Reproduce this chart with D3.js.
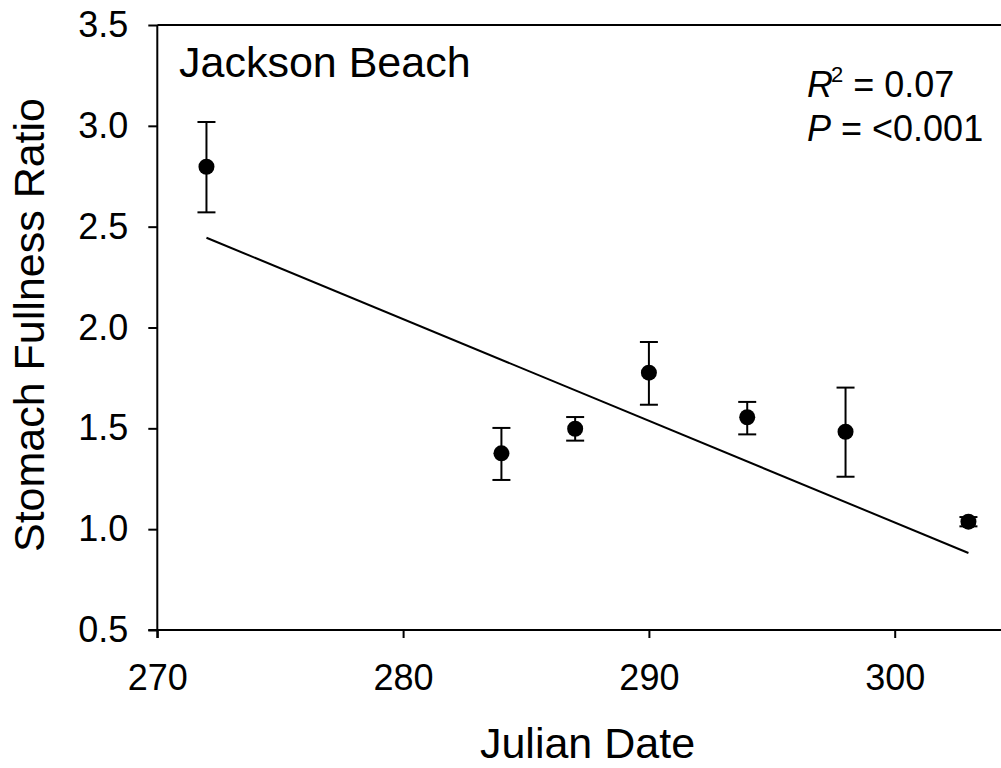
<!DOCTYPE html>
<html>
<head>
<meta charset="utf-8">
<script src="https://cdn.jsdelivr.net/npm/d3@7"></script>
<style>
  body { margin: 0; background: #fff; }
  svg { display: block; font-family: "Liberation Sans", Arial, sans-serif; }
</style>
</head>
<body>
<svg id="chart" width="1001" height="768"></svg>
<script>
// Data
const julianDates = [272, 284, 287, 290, 294, 298, 303];
const meanRatio   = [2.797, 1.376, 1.498, 1.776, 1.555, 1.483, 1.037];
const errUpper    = [3.019, 1.502, 1.556, 1.928, 1.631, 1.702, 1.060];
const errLower    = [2.571, 1.244, 1.439, 1.617, 1.470, 1.260, 1.014];
const fitX        = [272, 303];
const fitY        = [2.445, 0.882];
const xTicks      = [270, 280, 290, 300];
const yTicks      = [0.5, 1.0, 1.5, 2.0, 2.5, 3.0, 3.5];
const siteLabel   = "Jackson Beach";
const xTitle      = "Julian Date";
const yTitle      = "Stomach Fullness Ratio";

(function () {
const svg = d3.select("#chart");
const mLeft = 157.3, mRight = 1001, mTop = 25, mBottom = 630;

const x = d3.scaleLinear().domain([270, 300]).range([mLeft, 894.7]);
const y = d3.scaleLinear().domain([0.5, 3.5]).range([mBottom, mTop]);

const stroke = "#000";
const ff = "Liberation Sans, Arial, sans-serif";

// X axis
const xAxis = svg.append("g").attr("transform", `translate(0,${mBottom})`)
  .call(d3.axisBottom(x).tickValues(xTicks).tickSize(8).tickPadding(26).tickFormat(d3.format("d")));
xAxis.select(".domain").remove();
xAxis.append("line").attr("x1", mLeft - 9).attr("x2", mRight).attr("y1", 0).attr("y2", 0)
  .attr("stroke", stroke).attr("stroke-width", 2);
xAxis.selectAll(".tick line").attr("stroke-width", 2);
xAxis.selectAll("text").attr("font-size", 36).attr("fill", "#000").attr("font-family", ff);

// Y axis
const yAxis = svg.append("g").attr("transform", `translate(${mLeft},0)`)
  .call(d3.axisLeft(y).tickValues(yTicks).tickSize(9).tickPadding(20).tickFormat(d3.format(".1f")));
yAxis.select(".domain").remove();
yAxis.append("line").attr("x1", 0).attr("x2", 0).attr("y1", mTop).attr("y2", mBottom + 8)
  .attr("stroke", stroke).attr("stroke-width", 2);
yAxis.selectAll(".tick line").attr("stroke-width", 2);
yAxis.selectAll("text").attr("font-size", 36).attr("fill", "#000").attr("font-family", ff);

// Top frame line
svg.append("line").attr("x1", mLeft).attr("x2", mRight).attr("y1", y(3.5)).attr("y2", y(3.5))
  .attr("stroke", stroke).attr("stroke-width", 2);

// Regression line
svg.append("line")
  .attr("x1", x(fitX[0])).attr("y1", y(fitY[0]))
  .attr("x2", x(fitX[1])).attr("y2", y(fitY[1]))
  .attr("stroke", stroke).attr("stroke-width", 2);

// Error bars
const pts = julianDates.map((d, i) => ({ d, m: meanRatio[i], hi: errUpper[i], lo: errLower[i] }));
const eb = svg.append("g").attr("stroke", stroke).attr("stroke-width", 2);
pts.forEach(p => {
  eb.append("line").attr("x1", x(p.d)).attr("x2", x(p.d)).attr("y1", y(p.hi)).attr("y2", y(p.lo));
  eb.append("line").attr("x1", x(p.d) - 9).attr("x2", x(p.d) + 9).attr("y1", y(p.hi)).attr("y2", y(p.hi));
  eb.append("line").attr("x1", x(p.d) - 9).attr("x2", x(p.d) + 9).attr("y1", y(p.lo)).attr("y2", y(p.lo));
});

// Points
svg.append("g").selectAll("circle").data(pts).join("circle")
  .attr("cx", p => x(p.d)).attr("cy", p => y(p.m)).attr("r", 8).attr("fill", "#000");

// Site label
svg.append("text").attr("x", 179).attr("y", 77).attr("font-size", 43).text(siteLabel);

// Stats
const r2 = svg.append("text").attr("x", 807).attr("y", 97).attr("font-size", 36);
r2.append("tspan").attr("font-style", "italic").text("R");
r2.append("tspan").attr("font-size", 22).attr("dy", -15).attr("dx", -2).text("2");
r2.append("tspan").attr("dy", 15).text(" = 0.07");
const pv = svg.append("text").attr("x", 807).attr("y", 141).attr("font-size", 36);
pv.append("tspan").attr("font-style", "italic").text("P");
pv.append("tspan").text(" = <0.001");

// Axis titles
svg.append("text").attr("x", 587.5).attr("y", 758).attr("text-anchor", "middle")
  .attr("font-size", 43).text(xTitle);
svg.append("text").attr("transform", `translate(44,325) rotate(-90)`)
  .attr("text-anchor", "middle").attr("font-size", 43).text(yTitle);
})();
</script>
</body>
</html>
